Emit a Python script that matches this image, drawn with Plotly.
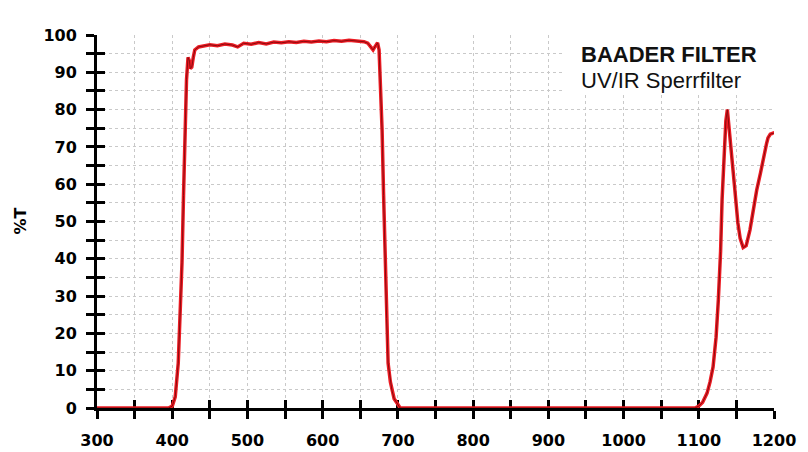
import plotly.graph_objects as go

# Wavelength (nm) and transmission (%T)
wavelength = [300, 350, 395, 400, 404, 408, 410, 413, 415, 417, 419, 421, 423, 424, 426, 428, 430,
              435, 440, 450, 460, 470, 480, 487, 495, 505, 515, 525, 535, 545, 555, 565, 575, 585,
              595, 605, 615, 625, 635, 645, 655, 660, 664, 667, 670, 673, 675, 677, 679, 681, 683,
              685, 687, 690, 692, 695, 699, 703, 750, 800, 900, 1000, 1095, 1100, 1105, 1111, 1115,
              1119, 1123, 1126, 1129, 1131, 1134, 1136, 1138, 1140, 1142, 1145, 1148, 1152, 1155,
              1159, 1163, 1168, 1172, 1177, 1182, 1186, 1190, 1192, 1195, 1199, 1200]
transmission = [0, 0, 0, 0.5, 3, 12, 22, 39, 57, 74.5, 88, 94, 93, 91, 91.4, 94, 96,
                96.8, 97.0, 97.4, 97.1, 97.6, 97.3, 96.8, 97.8, 97.5, 98.0, 97.6, 98.1, 97.9, 98.2, 98.0, 98.3, 98.1,
                98.4, 98.2, 98.5, 98.3, 98.6, 98.4, 98.2, 97.8, 96.6, 96.0, 97.0, 97.9, 96.0, 85, 74.5, 57, 39,
                24, 12, 7, 4.8, 2.5, 1.3, 0, 0, 0, 0, 0, 0, 0.5, 1.5, 4, 7,
                11, 19, 29, 42, 56, 68, 77, 80, 76, 72, 65, 58.4, 49.6, 45.5,
                43, 43.5, 47.7, 52.5, 58.4, 63, 67.3, 70.8, 72.4, 73.4, 73.7, 73.5]

x_ticks = [300, 400, 500, 600, 700, 800, 900, 1000, 1100, 1200]
y_ticks = [0, 10, 20, 30, 40, 50, 60, 70, 80, 90, 100]

title_line1 = "BAADER FILTER"
title_line2 = "UV/IR Sperrfilter"
y_label = "%T"

tick_font = dict(family="DejaVu Sans", size=16, color="black", weight="bold")
grid_color = "#c9c9c9"

fig = go.Figure()
fig.add_trace(go.Scatter(x=wavelength, y=transmission, mode="lines",
                         line=dict(color="#ec1c24", width=3.5), hoverinfo="skip",
                         xaxis="x", yaxis="y", showlegend=False))
fig.add_trace(go.Scatter(x=wavelength, y=transmission, mode="lines",
                         line=dict(color="#8a0a0e", width=1), hoverinfo="skip",
                         xaxis="x2", yaxis="y2", showlegend=False))

common_x = dict(range=[300, 1200], tickvals=x_ticks, showline=True, linecolor="black",
                linewidth=3, tickwidth=3, ticklen=8, tickcolor="black", zeroline=False,
                layer="below traces", fixedrange=True, automargin=False)
common_y = dict(range=[0, 100], tickvals=y_ticks, showline=True, linecolor="black",
                linewidth=3, tickwidth=3, ticklen=8, tickcolor="black", zeroline=False,
                layer="below traces", fixedrange=True, automargin=False)

fig.update_layout(
    width=808, height=452,
    margin=dict(l=97, r=34, t=35, b=44),
    paper_bgcolor="white", plot_bgcolor="white",
    xaxis=dict(**common_x, ticks="outside", tickfont=tick_font, ticklabelstandoff=8,
               showgrid=True, gridcolor=grid_color, griddash="dot", gridwidth=1,
               minor=dict(dtick=50, ticks="outside", ticklen=8, tickwidth=3, tickcolor="black",
                          showgrid=True, gridcolor=grid_color, griddash="dot", gridwidth=1)),
    yaxis=dict(**common_y, ticks="outside", tickfont=tick_font, ticklabelstandoff=6,
               showgrid=True, gridcolor=grid_color, griddash="dot", gridwidth=1,
               minor=dict(dtick=5, ticks="outside", ticklen=8, tickwidth=3, tickcolor="black",
                          showgrid=True, gridcolor=grid_color, griddash="dot", gridwidth=1)),
    xaxis2=dict(**common_x, overlaying="x", anchor="y2", side="bottom", ticks="inside",
                showticklabels=False, showgrid=False,
                minor=dict(dtick=50, ticks="inside", ticklen=8, tickwidth=3, tickcolor="black",
                           showgrid=False)),
    yaxis2=dict(**common_y, overlaying="y", anchor="x2", side="left", ticks="inside",
                showticklabels=False, showgrid=False,
                minor=dict(dtick=5, ticks="inside", ticklen=8, tickwidth=3, tickcolor="black",
                           showgrid=False)),
    shapes=[dict(type="rect", xref="paper", yref="paper", x0=0.688, x1=0.998, y0=0.839, y1=1.0,
                 fillcolor="white", line=dict(width=0), layer="above")],
    annotations=[
        dict(text=f"<b>{title_line1}</b>", xref="paper", yref="paper",
             x=0.712, y=0.949, xanchor="left", yanchor="middle", align="left", showarrow=False,
             font=dict(family="Liberation Sans", size=22, color="#111111")),
        dict(text=title_line2, xref="paper", yref="paper",
             x=0.712, y=0.879, xanchor="left", yanchor="middle", align="left", showarrow=False,
             font=dict(family="Liberation Sans", size=22, color="#111111")),
        dict(text=f"<b>{y_label}</b>", xref="paper", yref="paper", x=0, y=0.5, xshift=-77,
             xanchor="center", yanchor="middle", textangle=-90, showarrow=False,
             font=dict(family="DejaVu Sans", size=16, color="black")),
    ],
)

fig.write_html("out.html", config={"displayModeBar": False},
               post_script="document.body.style.margin='0';document.body.style.overflow='hidden';")
